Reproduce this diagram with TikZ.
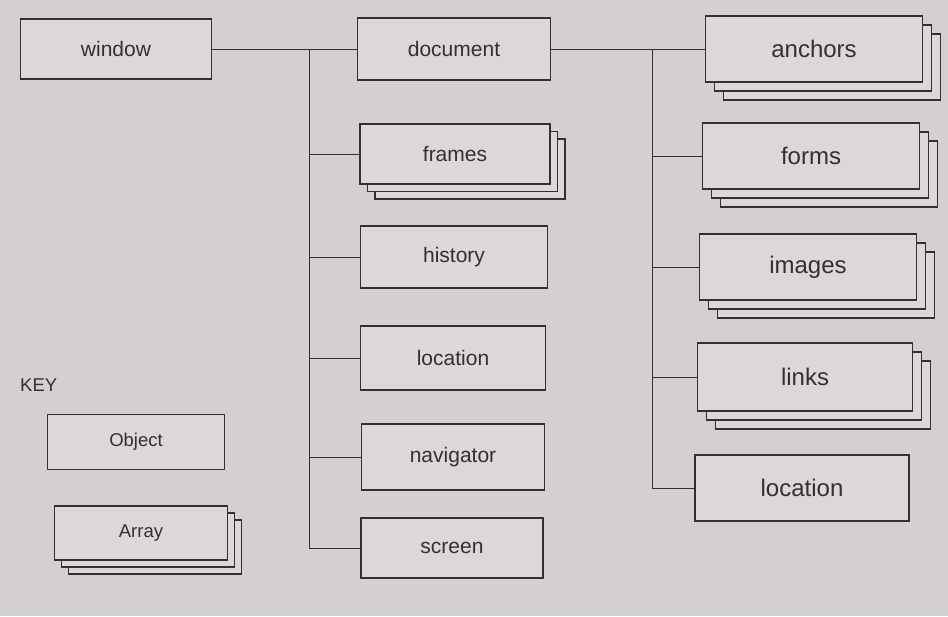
\documentclass[tikz,border=0pt]{standalone}
\usepackage{fontspec}
\setmainfont{Liberation Sans}
\usetikzlibrary{shadows}
\definecolor{paper}{RGB}{212,208,210}
\definecolor{boxfill}{RGB}{220,216,218}
\definecolor{ink}{RGB}{50,48,50}
\definecolor{txt}{RGB}{50,48,50}
\tikzset{
  obj/.style={draw=ink, line width=1.1pt, fill=boxfill, inner sep=0pt, text=txt},
  arr/.style={obj, double copy shadow={shadow xshift=#1, shadow yshift=-#1}},
  arr/.default=8pt,
  lft/.style={font=\fontsize{21}{24}\selectfont},
  rgt/.style={font=\fontsize{24}{28}\selectfont},
  keyf/.style={font=\fontsize{18.5}{22}\selectfont},
  link/.style={draw=ink, line width=1pt}
}
\begin{document}
\begin{tikzpicture}[x=1pt,y=-1pt]
\fill[paper] (0,0) rectangle (948,616);
\useasboundingbox (0,0) rectangle (948,616);

% left column
\node[obj,lft,minimum width=191pt,minimum height=60pt] (window) at (116,49) {window};
\node[obj,lft,minimum width=193pt,minimum height=62pt] (document) at (454,49) {document};
\node[arr=7.5pt,lft,minimum width=190pt,minimum height=60pt] (frames) at (455,154) {frames};
\node[obj,lft,minimum width=187pt,minimum height=62pt] (history) at (454,257) {history};
\node[obj,lft,minimum width=185pt,minimum height=64pt] (locL) at (453,358) {location};
\node[obj,lft,minimum width=183pt,minimum height=66pt] (navigator) at (453,457) {navigator};
\node[obj,lft,minimum width=182pt,minimum height=60pt] (screen) at (452,548) {screen};

% right column
\node[arr=9pt,rgt,minimum width=217pt,minimum height=66pt] (anchors) at (814,49) {anchors};
\node[arr=9pt,rgt,minimum width=217pt,minimum height=66pt] (forms) at (811,156) {forms};
\node[arr=9pt,rgt,minimum width=217pt,minimum height=66pt] (images) at (808,267) {images};
\node[arr=9pt,rgt,minimum width=215pt,minimum height=68pt] (links) at (805,377) {links};
\node[obj,rgt,minimum width=214pt,minimum height=66pt] (locR) at (802,488) {location};

% key
\node[text=txt,keyf,anchor=west,inner sep=0pt] (key) at (20,385) {KEY};
\node[obj,keyf,minimum width=177pt,minimum height=55pt] (object) at (136,442) {Object};
\node[arr=7pt,keyf,minimum width=173pt,minimum height=54pt] (array) at (141,533) {Array};

% connectors
\coordinate (tL) at (309,0);
\coordinate (tR) at (652,0);
\draw[link] (window.east) -- (document.west);
\draw[link] (window.east -| tL) -- (screen.west -| tL);
\foreach \n in {frames,history,locL,navigator,screen}
  \draw[link] (\n.west -| tL) -- (\n.west);
\draw[link] (document.east) -- (anchors.west);
\draw[link] (document.east -| tR) -- (locR.west -| tR);
\foreach \n in {forms,images,links,locR}
  \draw[link] (\n.west -| tR) -- (\n.west);
\end{tikzpicture}
\end{document}
